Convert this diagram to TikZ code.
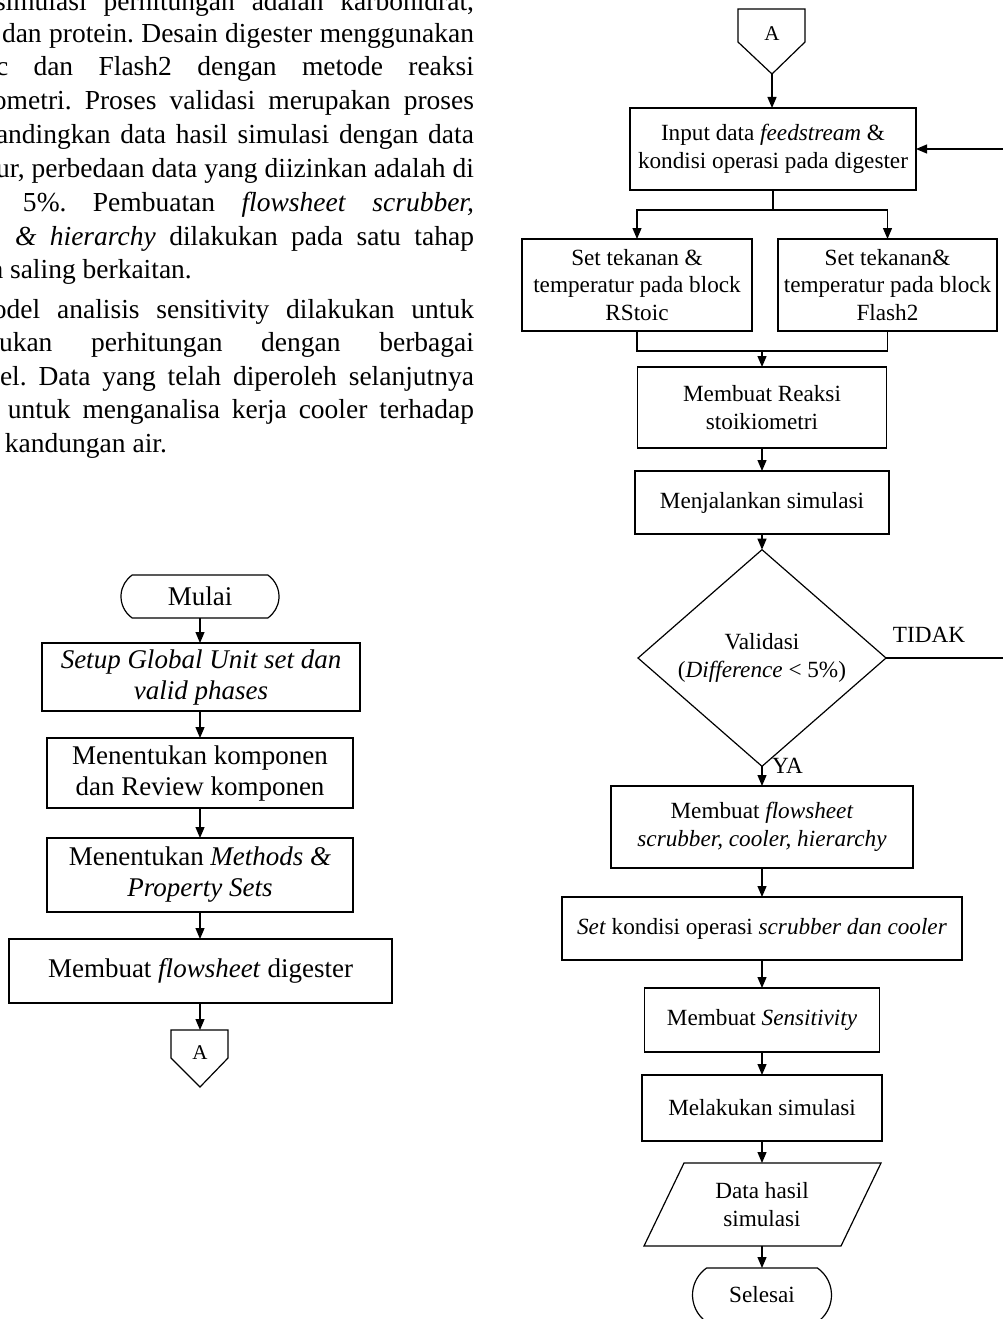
\documentclass[tikz,border=0pt]{standalone}
\usepackage{fontspec}
\setmainfont{Liberation Serif}
\usetikzlibrary{arrows.meta,shapes.geometric,shapes.misc}
\frenchspacing
\newcommand{\myPf}{\fontsize{27.5}{34}\selectfont}
\newcommand{\myRf}{\fontsize{23.2}{27.5}\selectfont}
\newcommand{\myLf}{\fontsize{27}{31}\selectfont}
\newcommand{\myAf}{\fontsize{21}{25}\selectfont}
\newcommand{\myJl}[2]{\makebox[#1pt][s]{#2}}
\begin{document}
\begin{tikzpicture}[x=1pt,y=-1pt,
  every node/.style={inner sep=0pt, outer sep=0pt},
  ln/.style={line width=1.2pt},
  arr/.style={line width=1.2pt,-{Triangle[length=11pt,width=9pt]}},
  rbox/.style={draw, line width=1.2pt, rectangle, align=center, font=\myRf},
  lbox/.style={draw, line width=1.2pt, rectangle, align=center, font=\myLf},
  term/.style={draw, line width=1.2pt, rounded rectangle, rounded rectangle arc length=110},
  para/.style={anchor=base west, font=\myPf},
]
\useasboundingbox (0,0) rectangle (1002,1319);

% ---------- paragraph text ----------
\node[para] (p1) at (-5,11) {\myJl{479}{simulasi perhitungan adalah karbohidrat,}};
\node[para] (p2) at (2,43) {\myJl{472}{dan protein. Desain digester menggunakan}};
\node[para] (p3) at (-4,76) {\myJl{478}{c dan Flash2 dengan metode reaksi}};
\node[para] (p4) at (-7,110) {\myJl{481}{ometri. Proses validasi merupakan proses}};
\node[para] (p5) at (-4,143) {\myJl{478}{andingkan data hasil simulasi dengan data}};
\node[para] (p6) at (-4,177) {\myJl{478}{ur, perbedaan data yang diizinkan adalah di}};
\node[para] (p7) at (23,211) {\myJl{451}{5\%. Pembuatan \textit{flowsheet} \textit{scrubber,}}};
\node[para] (p8) at (15,245) {\myJl{459}{\textit{\& hierarchy} dilakukan pada satu tahap}};
\node[para] (p9) at (-9,278) {a saling berkaitan.};
\node[para] (p10) at (-7,318) {\myJl{481}{odel analisis sensitivity dilakukan untuk}};
\node[para] (p11) at (-1,351) {\myJl{475}{ukan perhitungan dengan berbagai}};
\node[para] (p12) at (0,385) {\myJl{474}{el. Data yang telah diperoleh selanjutnya}};
\node[para] (p13) at (8,418) {\myJl{466}{untuk menganalisa kerja cooler terhadap}};
\node[para] (p14) at (5,452) {kandungan air.};

% ---------- left flowchart ----------
\node[term, minimum width=158, minimum height=43, font=\myLf] (mul) at (200,596.5) {Mulai};
\node[lbox, minimum width=318, minimum height=68] (su) at (201,677) {\textit{Setup Global Unit set dan}\\\textit{valid phases}};
\node[lbox, minimum width=306, minimum height=70] (ko) at (200,773) {Menentukan komponen\\dan Review komponen};
\node[lbox, minimum width=306, minimum height=74] (me) at (200,875) {Menentukan \textit{Methods \&}\\\textit{Property Sets}};
\node[lbox, minimum width=383, minimum height=64] (dg) at (200.5,971) {Membuat \textit{flowsheet} digester};
\node[font=\myAf] (Abot) at (200,1053) {A};
\draw[ln] (171,1030) -- (228,1030) -- (228,1058) -- (200,1087) -- (171,1058) -- cycle;
\coordinate (AbotTop) at (200,1030);

\draw[arr] (mul.south) -- (mul.south |- su.north);
\draw[arr] (su.south -| mul.south) -- (mul.south |- ko.north);
\draw[arr] (ko.south) -- (ko.south |- me.north);
\draw[arr] (me.south) -- (me.south |- dg.north);
\draw[arr] (dg.south -| AbotTop) -- (AbotTop);

% ---------- right flowchart ----------
\node[font=\myAf] (Atop) at (772,34) {A};
\draw[ln] (738,9) -- (805,9) -- (805,42) -- (772,74) -- (738,42) -- cycle;
\coordinate (Atip) at (772,74);

\node[rbox, minimum width=286, minimum height=82] (in) at (773,149) {Input data \textit{feedstream} \&\\kondisi operasi pada digester};
\node[rbox, minimum width=230, minimum height=92] (rs) at (637,285) {Set tekanan \&\\temperatur pada block\\RStoic};
\node[rbox, minimum width=219, minimum height=92] (fl) at (887.5,285) {Set tekanan\&\\temperatur pada block\\Flash2};
\node[rbox, minimum width=249, minimum height=81] (rk) at (762,407.5) {Membuat Reaksi\\stoikiometri};
\node[rbox, minimum width=254, minimum height=63] (mj) at (762,502.5) {Menjalankan simulasi};
\node[diamond, draw, ln, minimum width=248, minimum height=188, align=center, font=\myRf] (val) at (762,658) {Validasi\\(\textit{Difference} < 5\%)};
\node[font=\myRf, anchor=base] (tidak) at (929,642) {TIDAK};
\node[font=\myRf, anchor=base west] (ya) at (772,773) {YA};
\node[rbox, minimum width=302, minimum height=82] (fs) at (762,827) {Membuat \textit{flowsheet}\\\textit{scrubber, cooler, hierarchy}};
\node[rbox, minimum width=400, minimum height=63] (set) at (762,928.5) {\textit{Set} kondisi operasi \textit{scrubber dan cooler}};
\node[rbox, minimum width=235, minimum height=64] (sen) at (762,1020) {Membuat \textit{Sensitivity}};
\node[rbox, minimum width=240, minimum height=66] (mel) at (762,1108) {Melakukan simulasi};
\node[font=\myRf, align=center, minimum width=197, minimum height=83] (dat) at (762,1204.5) {Data hasil\\simulasi};
\draw[ln] (684,1163) -- (881,1163) -- (841,1246) -- (644,1246) -- cycle;
\node[term, minimum width=139, minimum height=54, font=\myRf] (sel) at (762,1295) {Selesai};

\draw[arr] (Atip) -- (Atip |- in.north);
\coordinate (sp) at (773,210);
\draw[ln] (in.south) -- (sp);
\draw[arr] (sp) -| (rs.north);
\draw[arr] (sp) -| (fl.north);
\coordinate (mg) at (762,351);
\draw[ln] (rs.south) |- (mg) -| (fl.south);
\draw[arr] (mg) -- (rk.north);
\draw[arr] (rk.south) -- (mj.north);
\draw[arr] (mj.south) -- (val.north);
\coordinate (fb) at (1004,658);
\draw[arr] (val.east) -- (fb) |- (in.east);
\draw[arr] (val.south) -- (fs.north);
\draw[arr] (fs.south) -- (set.north);
\draw[arr] (set.south) -- (sen.north);
\draw[arr] (sen.south) -- (mel.north);
\draw[arr] (mel.south) -- (dat.north);
\draw[arr] (dat.south) -- (sel.north);
\end{tikzpicture}
\end{document}
